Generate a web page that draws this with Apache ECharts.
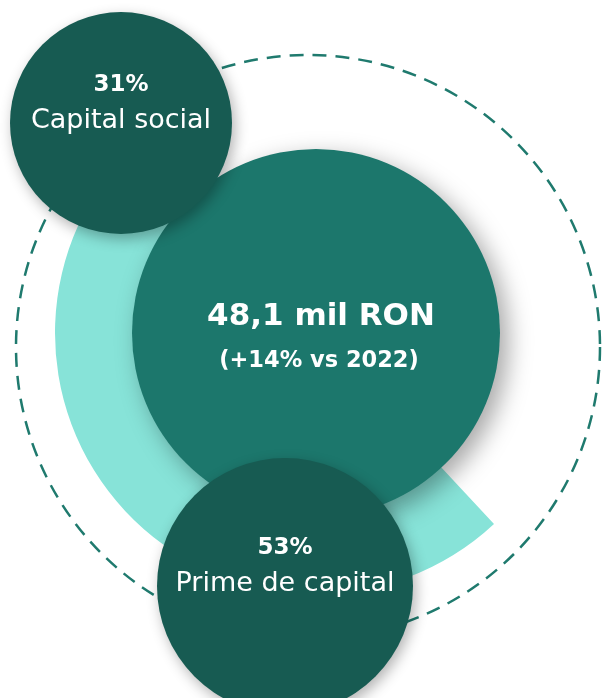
<!DOCTYPE html>
<html>
<head>
<meta charset="utf-8">
<script src="https://cdn.jsdelivr.net/npm/echarts@6/dist/echarts.min.js"></script>
<style>
  html, body { margin: 0; padding: 0; background: #fff; }
  #chart { width: 602px; height: 698px; }
</style>
</head>
<body>
<div id="chart"></div>
<script>
// date
const names = ["Capital social", "Prime de capital"];
const shares = [31, 53];
const total = "48,1 mil RON";
const growth = "(+14% vs 2022)";

const font = "'DejaVu Sans', sans-serif";
const dark = "#175B52";
const mid = "#1C776C";
const light = "#87E3D8";

const chart = echarts.init(document.getElementById("chart"));

// arcul deschis = Prime de capital, restul transparent
const arcData = [
  { value: shares[1], name: names[1], itemStyle: { color: light } },
  { value: 100 - shares[1], name: "rest", itemStyle: { color: "transparent" } },
];

function bubble(cx, cy, r, pct, label, z) {
  return [
    {
      type: "circle",
      shape: { cx: cx, cy: cy, r: r },
      style: {
        fill: dark,
        shadowBlur: 14,
        shadowOffsetX: 3,
        shadowOffsetY: 5,
        shadowColor: "rgba(0,0,0,0.3)",
      },
      z: z,
    },
    {
      type: "text",
      x: cx,
      y: cy - 38,
      style: {
        text: pct + "%",
        fill: "#fff",
        font: "bold 23px " + font,
        align: "center",
        verticalAlign: "middle",
      },
      z: z + 1,
    },
    {
      type: "text",
      x: cx,
      y: cy - 2,
      style: {
        text: label,
        fill: "#fff",
        font: "27px " + font,
        align: "center",
        verticalAlign: "middle",
      },
      z: z + 1,
    },
  ];
}

const option = {
  animation: false,
  series: [
    {
      type: "pie",
      silent: true,
      center: [316, 333],
      radius: [160, 261],
      startAngle: -47,
      clockwise: true,
      label: { show: false },
      labelLine: { show: false },
      data: arcData,
      z: 2,
    },
  ],
  graphic: {
    elements: [
      {
        type: "circle",
        shape: { cx: 308, cy: 347, r: 292 },
        style: {
          fill: "none",
          stroke: "#1F7A6E",
          lineWidth: 2.5,
          lineDash: [14, 9],
        },
        z: 0,
      },
      {
        type: "circle",
        shape: { cx: 316, cy: 333, r: 184 },
        style: {
          fill: mid,
          shadowBlur: 24,
          shadowOffsetX: 8,
          shadowOffsetY: 8,
          shadowColor: "rgba(0,0,0,0.35)",
        },
        z: 10,
      },
      {
        type: "text",
        x: 321,
        y: 317,
        style: {
          text: total,
          fill: "#fff",
          font: "bold 31px " + font,
          align: "center",
          verticalAlign: "middle",
        },
        z: 11,
      },
      {
        type: "text",
        x: 319,
        y: 361,
        style: {
          text: growth,
          fill: "#fff",
          font: "bold 22.5px " + font,
          align: "center",
          verticalAlign: "middle",
        },
        z: 11,
      },
      ...bubble(121, 123, 111, shares[0], names[0], 20),
      ...bubble(285, 586, 128, shares[1], names[1], 30),
    ],
  },
};

chart.setOption(option);
</script>
</body>
</html>
